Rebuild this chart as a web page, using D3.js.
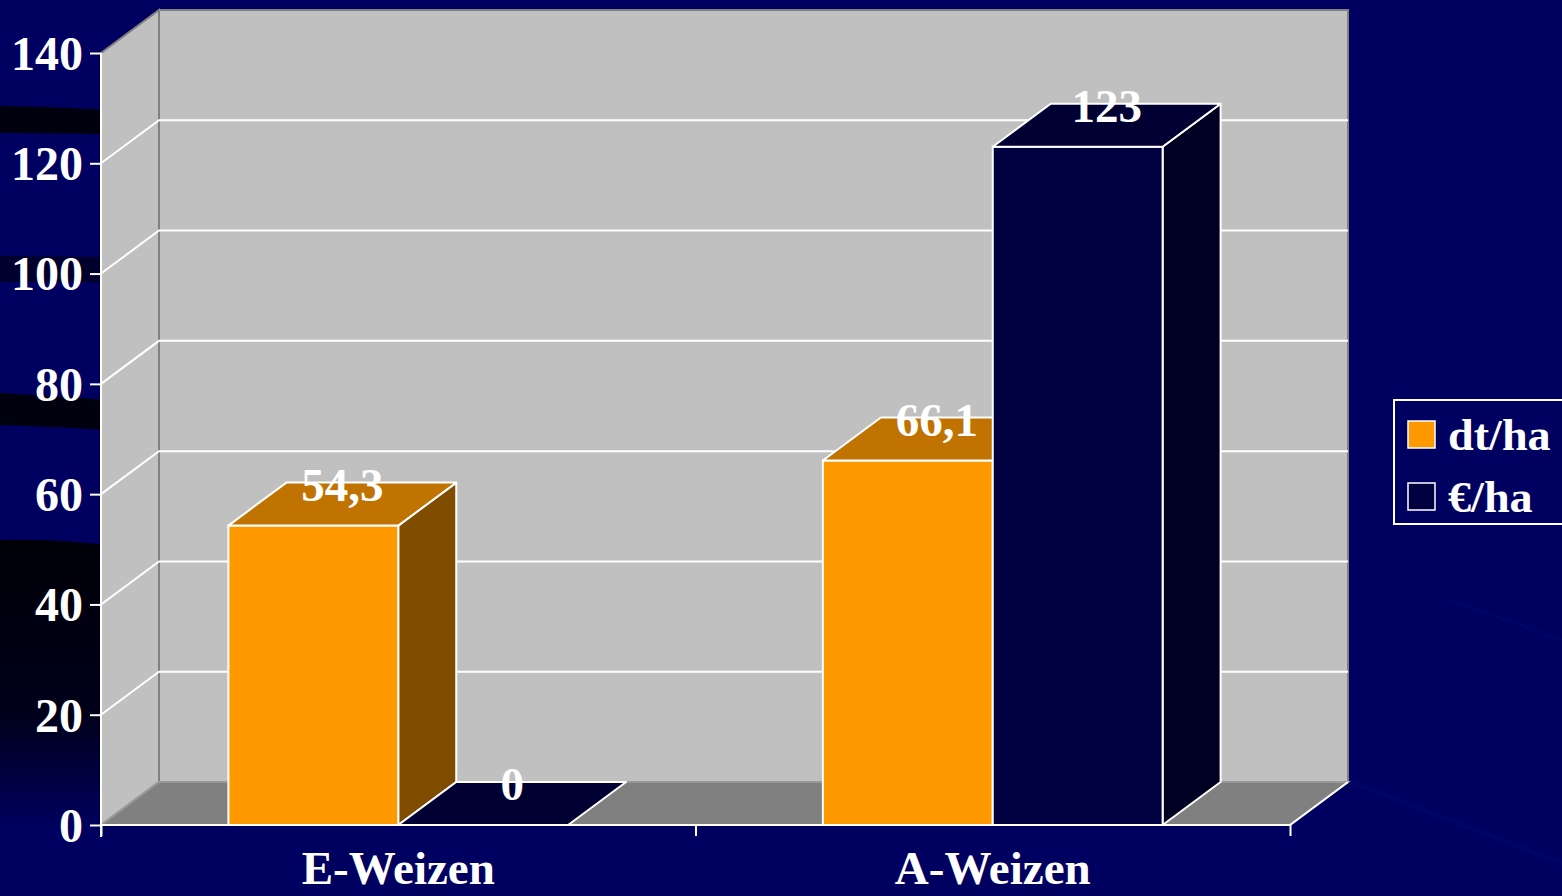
<!DOCTYPE html>
<html><head><meta charset="utf-8">
<script src="https://cdn.jsdelivr.net/npm/d3@7"></script>
<style>html,body{margin:0;padding:0;background:#000060;overflow:hidden}</style>
</head><body>
<svg id="c" width="1562" height="896"></svg>
<script>
const categories = ["E-Weizen", "A-Weizen"];
const seriesNames = ["dt/ha", "€/ha"];
const dtHa = [54.3, 66.1];
const euroHa = [0, 123];
const valueLabels = [["54,3", "0"], ["66,1", "123"]];
const yTicks = [0, 20, 40, 60, 80, 100, 120, 140];

const svg = d3.select("#c");
const W = 1562, H = 896;
const font = "'Liberation Serif','Times New Roman',serif";
const bg = "#000060";
svg.append("rect").attr("width", W).attr("height", H).attr("fill", bg);

// decorative background streaks
const defs = svg.append("defs");
const g1 = defs.append("linearGradient").attr("id", "dk").attr("x1", 0).attr("y1", 0).attr("x2", 0).attr("y2", 1);
g1.append("stop").attr("offset", 0).attr("stop-color", "#000008");
g1.append("stop").attr("offset", 0.6).attr("stop-color", "#00001a");
g1.append("stop").attr("offset", 1).attr("stop-color", bg);
svg.append("path").attr("d", "M0,540 C60,538 110,545 160,552 L160,830 L0,830 Z").attr("fill", "url(#dk)");
svg.append("path").attr("d", "M0,106 C60,107 110,110 160,112 L160,136 C110,134 60,133 0,133 Z").attr("fill", "#00000e");
svg.append("path").attr("d", "M0,256 C50,256 100,257 160,258 L160,283 C100,282 50,282 0,282 Z").attr("fill", "#00002c");
svg.append("path").attr("d", "M0,393 C60,396 110,400 160,404 L160,433 C110,430 60,427 0,425 Z").attr("fill", "#00000e");
svg.append("path").attr("d", "M1250,740 L1562,860 L1562,866 L1250,746 Z").attr("fill", "#06066a").attr("opacity", 0.5);
svg.append("path").attr("d", "M1450,600 L1562,640").attr("stroke", "#0a0a70").attr("stroke-width", 2).attr("opacity", 0.4);

// scales
const x0 = 101, x1 = 1290, dx = 58, dy = -43;
const y = d3.scaleLinear().domain([0, 140]).range([825, 53]);
const xCat = d3.scaleBand().domain(categories).range([x0, x1]).paddingInner(0).paddingOuter(0);
const xSer = d3.scaleBand().domain(seriesNames).range([0, xCat.bandwidth()]).paddingInner(0).paddingOuter(0.75);

const line = d3.line();
const poly = pts => line(pts) + "Z";

// walls
const yTop = y(140), yZero = y(0);
svg.append("path").attr("d", poly([[x0 + dx, yTop + dy], [x1 + dx, yTop + dy], [x1 + dx, yZero + dy], [x0 + dx, yZero + dy]]))
  .attr("fill", "#c0c0c0").attr("stroke", "#808080").attr("stroke-width", 2);
svg.append("path").attr("d", poly([[x0, yTop], [x0 + dx, yTop + dy], [x0 + dx, yZero + dy], [x0, yZero]]))
  .attr("fill", "#c0c0c0").attr("stroke", "#808080").attr("stroke-width", 2);
svg.append("path").attr("d", poly([[x0, yZero], [x0 + dx, yZero + dy], [x1 + dx, yZero + dy], [x1, yZero]]))
  .attr("fill", "#808080").attr("stroke", "#999").attr("stroke-width", 2);
svg.append("line").attr("x1", x1).attr("y1", yZero).attr("x2", x1 + dx).attr("y2", yZero + dy)
  .attr("stroke", "#fff").attr("stroke-width", 2);

// gridlines
yTicks.filter(t => t > 0 && t < 140).forEach(t => {
  svg.append("path").attr("d", line([[x0, y(t)], [x0 + dx, y(t) + dy], [x1 + dx, y(t) + dy]]))
    .attr("fill", "none").attr("stroke", "#fff").attr("stroke-width", 2);
});

// axes
const yAxis = svg.append("g").attr("transform", `translate(${x0},0)`)
  .call(d3.axisLeft(y).tickValues(yTicks).tickSize(11).tickPadding(7).tickFormat(d3.format("d")));
yAxis.select(".domain").attr("stroke", "#fff").attr("stroke-width", 2).attr("d", `M0,${yTop}V${yZero + 12}`);
yAxis.selectAll(".tick line").attr("stroke", "#fff").attr("stroke-width", 2);
yAxis.selectAll(".tick text").attr("fill", "#fff").attr("font-family", font).attr("font-weight", "bold")
  .attr("font-size", 48).attr("dy", "0.34em");

const xAxisScale = d3.scalePoint().domain([0, 1, 2]).range([x0, x1]);
const xAxis = svg.append("g").attr("transform", `translate(0,${yZero})`)
  .call(d3.axisBottom(xAxisScale).tickSize(11).tickFormat(""));
xAxis.select(".domain").attr("stroke", "#fff").attr("stroke-width", 2).attr("d", `M${x0},0H${x1}`);
xAxis.selectAll(".tick line").attr("stroke", "#fff").attr("stroke-width", 2);

// category labels
svg.append("g").selectAll("text").data(categories).join("text")
  .attr("x", d => xCat(d) + xCat.bandwidth() / 2).attr("y", 884)
  .attr("text-anchor", "middle").attr("fill", "#fff").attr("font-family", font)
  .attr("font-weight", "bold").attr("font-size", 47).text(d => d);

// bars
const colors = {
  "dt/ha": { front: "#ff9900", top: "#c07300", side: "#804c00" },
  "€/ha": { front: "#000040", top: "#000033", side: "#000022" }
};
const data = [];
categories.forEach((c, i) => {
  data.push({ cat: c, ser: seriesNames[0], v: dtHa[i], label: valueLabels[i][0] });
  data.push({ cat: c, ser: seriesNames[1], v: euroHa[i], label: valueLabels[i][1] });
});
const bars = svg.append("g");
data.forEach(d => {
  const xl = xCat(d.cat) + xSer(d.ser), xr = xl + xSer.bandwidth();
  const yt = y(d.v), yb = y(0);
  const c = colors[d.ser];
  const g = bars.append("g");
  if (yb - yt > 0.5) {
    g.append("path").attr("d", poly([[xr, yt], [xr + dx, yt + dy], [xr + dx, yb + dy], [xr, yb]]))
      .attr("fill", c.side).attr("stroke", "#fff").attr("stroke-width", 2).attr("stroke-linejoin", "round");
    g.append("path").attr("d", poly([[xl, yt], [xr, yt], [xr, yb], [xl, yb]]))
      .attr("fill", c.front).attr("stroke", "#fff").attr("stroke-width", 2);
  }
  g.append("path").attr("d", poly([[xl, yt], [xl + dx, yt + dy], [xr + dx, yt + dy], [xr, yt]]))
    .attr("fill", c.top).attr("stroke", "#fff").attr("stroke-width", 2).attr("stroke-linejoin", "round");
});
// value labels
svg.append("g").selectAll("text").data(data).join("text")
  .attr("x", d => xCat(d.cat) + xSer(d.ser) + xSer.bandwidth() / 2 + dx / 2)
  .attr("y", d => y(d.v) - 25)
  .attr("text-anchor", "middle").attr("fill", "#fff").attr("font-family", font)
  .attr("font-weight", "bold").attr("font-size", 47).text(d => d.label);

// legend
const lg = svg.append("g");
lg.append("rect").attr("x", 1394).attr("y", 400).attr("width", 190).attr("height", 124)
  .attr("fill", "none").attr("stroke", "#fff").attr("stroke-width", 2);
seriesNames.forEach((s, i) => {
  const yy = 421 + i * 62;
  lg.append("rect").attr("x", 1408).attr("y", yy).attr("width", 27).attr("height", 27)
    .attr("fill", colors[s].front).attr("stroke", "#fff").attr("stroke-width", 1.5);
  lg.append("text").attr("transform", `translate(1448,${yy + 29}) scale(1.05,1)`).attr("fill", "#fff").attr("font-family", font)
    .attr("font-weight", "bold").attr("font-size", 44).text(s);
});
</script>
</body></html>
